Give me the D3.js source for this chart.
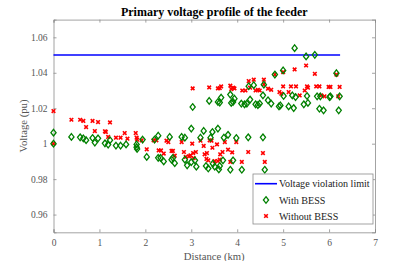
<!DOCTYPE html>
<html>
<head>
<meta charset="utf-8">
<script src="https://cdn.jsdelivr.net/npm/d3@7"></script>
<style>
  body { margin: 0; background: #fff; }
  svg { display: block; font-family: "Liberation Serif", "Times New Roman", serif; }
</style>
</head>
<body>
<svg id="chart" width="415" height="261"></svg>
<script>
// Voltage limit line
const limit_value = 1.05;
const limit_x = [0, 6.24];

// With BESS (distance km, voltage pu)
const with_bess_x = [0, 0, 0.39, 0.58, 0.65, 0.71, 0.85, 0.90, 0.97, 1.12, 1.19, 1.23, 1.36, 1.46, 1.58, 1.81, 1.81, 1.82,
  1.94, 2.03, 2.2, 2.28, 2.28, 2.33, 2.40, 2.53, 2.57, 2.6, 2.64, 2.79, 2.86, 2.86, 2.91, 3.0, 3.0, 3.08, 3.11, 3.2, 3.27,
  3.32, 3.37, 3.42, 3.46, 3.47, 3.51, 3.58, 3.6, 3.62, 3.69, 3.71, 3.8, 3.85, 3.91, 3.98, 4.1, 4.24, 4.56, 4.6,
  3.03, 3.39, 3.58, 3.62, 3.65, 3.85, 3.87, 3.91, 3.94, 4.09, 4.16, 4.21, 4.25, 4.28, 4.36, 4.40, 4.45, 4.49, 4.56, 4.58,
  4.67, 4.74, 4.82, 4.91, 4.94, 5.0, 5.01, 5.12, 5.2, 5.25, 5.27, 5.23, 5.45, 5.5, 5.52, 5.54, 5.69, 5.74, 5.79, 5.81,
  5.88, 6.01, 6.03, 6.16, 6.21, 6.23];
const with_bess_v = [1.0062, 1.0, 1.0038, 1.0036, 1.003, 1.002, 1.0032, 1.0006, 1.003, 1.0002, 0.9995, 1.002, 0.9989, 0.9989, 0.9996, 0.9996, 0.998, 0.997,
  1.0023, 0.9925, 1.0023, 1.0045, 0.992, 0.992, 0.990, 1.0038, 0.991, 0.992, 0.989, 1.0038, 1.0034, 0.991, 0.9878, 1.0085, 0.9896, 0.9906, 0.987, 1.0034, 1.0072,
  0.9874, 0.986, 1.0034, 1.0066, 0.9887, 0.987, 1.0085, 0.9855, 0.9874, 0.9906, 1.0034, 1.005, 0.9853, 0.9906, 1.0032, 0.9853, 1.0036, 1.0036, 0.9853,
  1.0207, 1.0241, 1.0235, 1.0232, 1.026, 1.0277, 1.023, 1.0235, 1.0254, 1.0226, 1.0222, 1.0226, 1.0324, 1.0249, 1.033, 1.0222, 1.0218, 1.0226, 1.0273, 1.0333,
  1.0245, 1.0226, 1.039, 1.021, 1.0216, 1.0413, 1.0269, 1.021, 1.0272, 1.0539, 1.0263, 1.0201, 1.0222, 1.0492, 1.0269, 1.023, 1.0501, 1.0267, 1.0197, 1.0267,
  1.0188, 1.0263, 1.0267, 1.0398, 1.0188, 1.0267];

// Without BESS
const without_bess_x = [0, 0, 0.39, 0.58, 0.65, 0.71, 0.85, 0.90, 0.97, 1.12, 1.14, 1.19, 1.23, 1.36, 1.46, 1.55, 1.61, 1.79, 1.81, 1.82,
  1.92, 2.03, 2.18, 2.24, 2.29, 2.34, 2.40, 2.46, 2.50, 2.57, 2.6, 2.64, 2.79, 2.84, 2.88, 2.95, 2.98, 3.02, 3.04, 3.05, 3.1,
  3.2, 3.27, 3.29, 3.33, 3.34, 3.37, 3.40, 3.44, 3.46, 3.51, 3.56, 3.58, 3.62, 3.63, 3.68, 3.73, 3.8, 3.85, 3.89, 3.98, 4.1, 4.24, 4.56, 4.6,
  3.03, 3.39, 3.58, 3.62, 3.65, 3.85, 3.87, 3.91, 3.94, 4.11, 4.18, 4.25, 4.28, 4.36, 4.40, 4.45, 4.49, 4.58, 4.58, 4.67, 4.74,
  4.82, 4.92, 4.96, 5.0, 5.0, 5.12, 5.17, 5.25, 5.28, 5.36, 5.47, 5.5, 5.52, 5.54, 5.69, 5.72, 5.79, 5.83, 5.9, 5.99, 6.03, 6.16, 6.2, 6.23];
const without_bess_v = [1.0184, 1.0, 1.0135, 1.0135, 1.0128, 1.0094, 1.0128, 1.0071, 1.0122, 1.007, 1.0066, 1.0038, 1.012, 1.0034, 1.0034, 1.006, 1.0028, 1.006, 1.0034, 1.0023,
  1.0019, 0.9968, 1.0019, 1.0019, 0.9962, 0.9962, 0.9944, 1.0017, 1.0009, 0.9959, 0.9959, 0.9932, 1.0009, 0.9953, 0.9925, 0.9929, 0.9934, 1.0, 0.9947, 0.9919, 0.9953,
  1.0017, 0.9987, 0.994, 0.9914, 0.9947, 0.9906, 1.0019, 1.0017, 0.9977, 0.9902, 0.9996, 0.9902, 0.991, 0.994, 0.9953, 1.0009, 0.9966, 0.9897, 0.9951, 1.0009, 0.9897, 0.9953, 0.9947, 0.9897,
  1.0312, 1.0317, 1.0312, 1.0314, 1.0323, 1.0327, 1.0308, 1.0316, 1.0312, 1.030, 1.030, 1.0353, 1.0316, 1.0361, 1.030, 1.0304, 1.030, 1.0361, 1.0334, 1.031, 1.0304,
  1.039, 1.0291, 1.0282, 1.0404, 1.0323, 1.0291, 1.0323, 1.0419, 1.0323, 1.0272, 1.030, 1.0441, 1.0323, 1.0316, 1.0394, 1.0323, 1.0323, 1.0272, 1.0267, 1.032, 1.032, 1.039, 1.0267, 1.032];

// Tick values
const x_ticks = [0, 1, 2, 3, 4, 5, 6, 7];
const y_ticks = [0.96, 0.98, 1, 1.02, 1.04, 1.06];

const svg = d3.select('#chart');
const margin = { top: 19.6, left: 53.5, right: 40, bottom: 28.7 };
const W = 415, H = 261;
const inner_w = W - margin.left - margin.right;
const inner_h = H - margin.top - margin.bottom;

const g = svg.append('g').attr('transform', `translate(${margin.left},${margin.top})`);

const xScale = d3.scaleLinear().domain([0, 7]).range([0, inner_w]);
const yScale = d3.scaleLinear().domain([0.95, 1.07]).range([inner_h, 0]);

const axis_color = '#8c8c8c';
const text_color = '#555';

// Axes with inward ticks
const xAxis = g.append('g').attr('transform', `translate(0,${inner_h})`)
  .call(d3.axisBottom(xScale).tickValues(x_ticks).tickSize(-3).tickPadding(7).tickFormat(d3.format('d')));
const yAxis = g.append('g')
  .call(d3.axisLeft(yScale).tickValues(y_ticks).tickSize(-3).tickPadding(6).tickFormat(d => d === 1 ? '1' : d3.format('.2f')(d)));
const xTop = g.append('g')
  .call(d3.axisTop(xScale).tickValues(x_ticks).tickSize(-3).tickFormat(''));
const yRight = g.append('g').attr('transform', `translate(${inner_w},0)`)
  .call(d3.axisRight(yScale).tickValues(y_ticks).tickSize(-3).tickFormat(''));

[xAxis, yAxis, xTop, yRight].forEach(a => {
  a.select('.domain').attr('stroke', axis_color).attr('stroke-width', 0.8);
  a.selectAll('.tick line').attr('stroke', axis_color).attr('stroke-width', 0.8);
  a.selectAll('.tick text').attr('fill', text_color).style('font-size', '9.5px')
    .style('font-family', '"Liberation Serif", serif');
});

// Limit line
g.append('line')
  .attr('x1', xScale(limit_x[0])).attr('x2', xScale(limit_x[1]))
  .attr('y1', yScale(limit_value)).attr('y2', yScale(limit_value))
  .attr('stroke', '#0000ff').attr('stroke-width', 1.6);

// Diamond path helper
const diamond = (cx, cy) => `M${cx},${cy - 3.3}L${cx + 2.6},${cy}L${cx},${cy + 3.3}L${cx - 2.6},${cy}Z`;
const cross = (cx, cy, s) => `M${cx - s},${cy - s}L${cx + s},${cy + s}M${cx - s},${cy + s}L${cx + s},${cy - s}`;

// Red crosses
g.append('g').selectAll('path').data(without_bess_x).join('path')
  .attr('d', (d, i) => cross(xScale(d), yScale(without_bess_v[i]), 1.8))
  .attr('stroke', '#ff0000').attr('stroke-width', 1.6).attr('fill', 'none');

// Green diamonds
g.append('g').selectAll('path').data(with_bess_x).join('path')
  .attr('d', (d, i) => diamond(xScale(d), yScale(with_bess_v[i])))
  .attr('stroke', '#008000').attr('stroke-width', 1.3).attr('fill', 'none');

// Title and labels
svg.append('text').attr('x', margin.left + inner_w / 2).attr('y', 16)
  .attr('text-anchor', 'middle').style('font-size', '12px').style('font-weight', 'bold')
  .attr('fill', '#000').text('Primary voltage profile of the feeder');
svg.append('text').attr('x', margin.left + inner_w / 2).attr('y', 259.5)
  .attr('text-anchor', 'middle').style('font-size', '10.7px').attr('fill', text_color).text('Distance (km)');
svg.append('text').attr('transform', `translate(27,${margin.top + inner_h / 2}) rotate(-90)`)
  .attr('text-anchor', 'middle').style('font-size', '10.7px').attr('fill', text_color).text('Voltage (pu)');

// Legend
const lg = svg.append('g').attr('transform', 'translate(253,174)');
lg.append('rect').attr('width', 120).attr('height', 50).attr('fill', '#fff')
  .attr('stroke', axis_color).attr('stroke-width', 0.8);
lg.append('line').attr('x1', 2).attr('x2', 24).attr('y1', 9.7).attr('y2', 9.7)
  .attr('stroke', '#0000ff').attr('stroke-width', 1.6);
lg.append('path').attr('d', diamond(13, 26)).attr('stroke', '#008000').attr('stroke-width', 1.3).attr('fill', 'none');
lg.append('path').attr('d', cross(13, 42, 1.8)).attr('stroke', '#ff0000').attr('stroke-width', 1.6);
const legend_labels = ['Voltage violation limit', 'With BESS', 'Without BESS'];
lg.selectAll('text.lab').data(legend_labels).join('text').attr('class', 'lab')
  .attr('x', 26).attr('y', (d, i) => 13.3 + i * 16.2)
  .style('font-size', '10.1px').attr('fill', '#222').text(d => d);
</script>
</body>
</html>
